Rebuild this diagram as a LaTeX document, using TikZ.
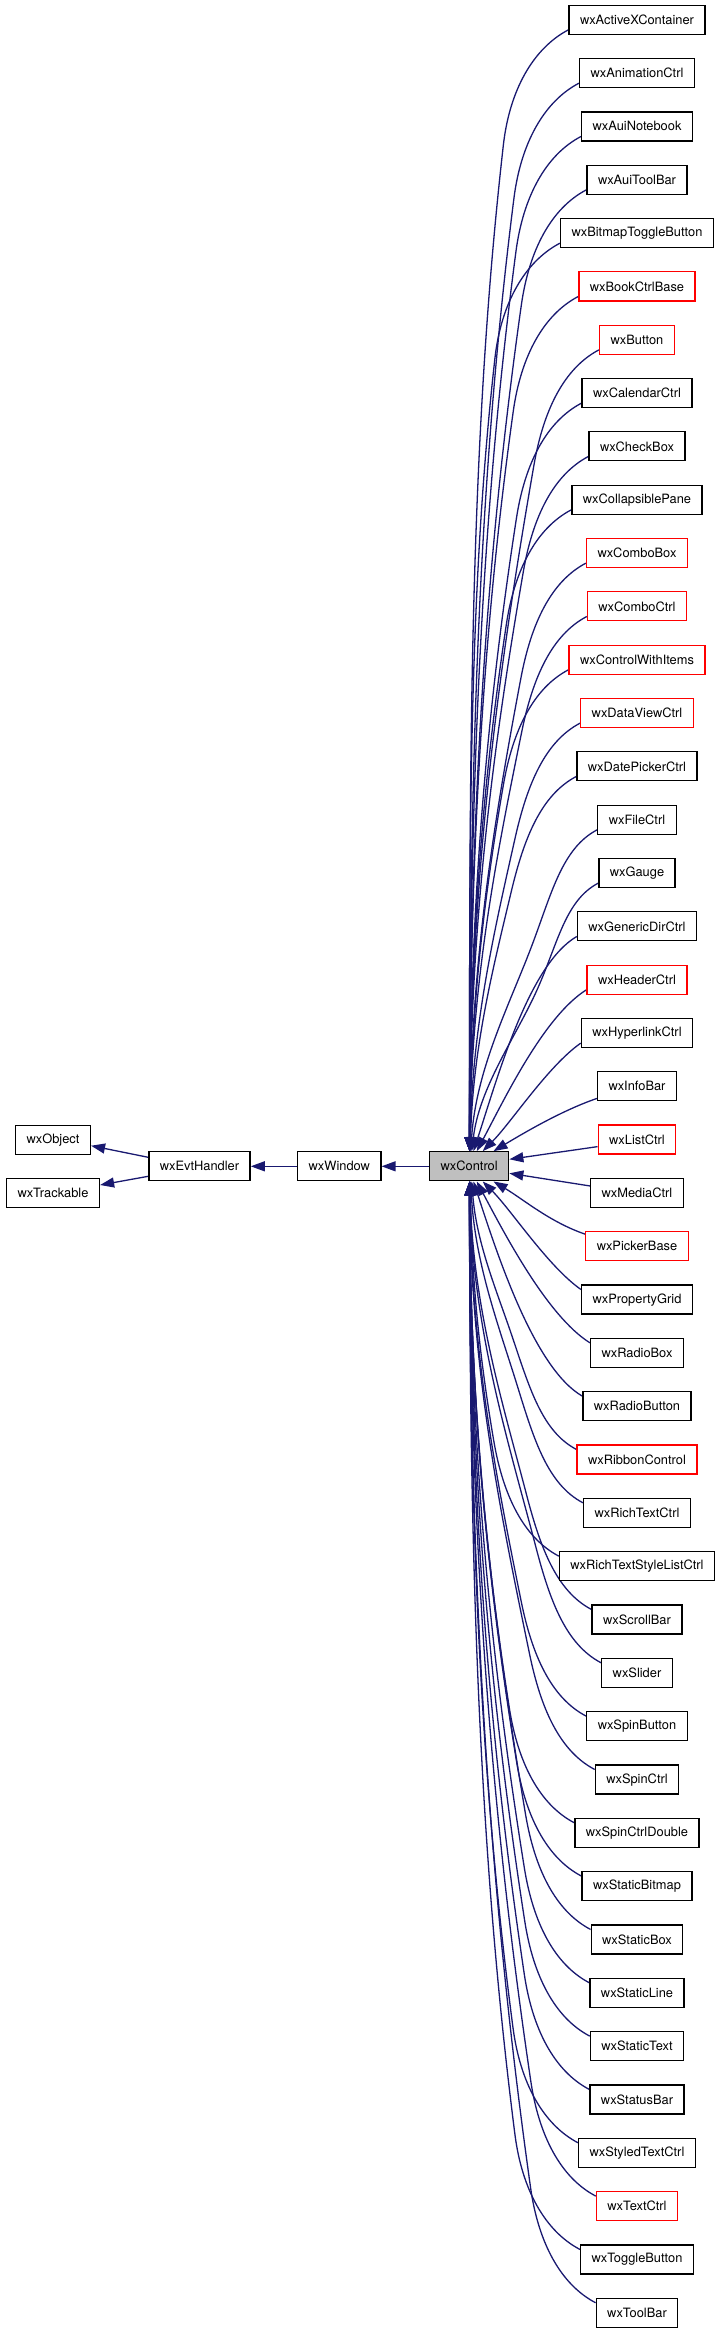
\documentclass[tikz,border=0pt]{standalone}
\usepackage{fontspec}
\setmainfont{TeX Gyre Heros}
\usetikzlibrary{arrows.meta}
\pgfdeclarelayer{bg}
\pgfsetlayers{bg,main}
\definecolor{edgeblue}{HTML}{191970}
\definecolor{ctrlgray}{HTML}{BFBFBF}
\tikzset{
  cls/.style={draw=black, line width=1.3pt, fill=white, inner xsep=11pt, inner ysep=0pt,
    minimum height=29pt, font=\fontsize{12.85pt}{15pt}\selectfont, text=black},
  edge/.style={draw=edgeblue, line width=1.3pt, -{Triangle[length=14pt,width=10pt]}}
}
\begin{document}
\begin{tikzpicture}[x=1pt,y=-1pt]
\useasboundingbox (0,0) rectangle (723,2333);
% left chain
\node[cls] (obj) at (53,1139.7) {wxObject};
\node[cls] (trk) at (53,1193) {wxTrackable};
\node[cls] (evt) at (199.5,1166.3) {wxEvtHandler};
\node[cls] (win) at (339.3,1166.3) {wxWindow};
\node[cls, fill=ctrlgray] (ctrl) at (469.2,1166.3) {wxControl};
% children
\foreach \nm/\col [count=\i from 0] in {
  wxActiveXContainer/black, wxAnimationCtrl/black, wxAuiNotebook/black, wxAuiToolBar/black,
  wxBitmapToggleButton/black, wxBookCtrlBase/red, wxButton/red, wxCalendarCtrl/black,
  wxCheckBox/black, wxCollapsiblePane/black, wxComboBox/red, wxComboCtrl/red,
  wxControlWithItems/red, wxDataViewCtrl/red, wxDatePickerCtrl/black, wxFileCtrl/black,
  wxGauge/black, wxGenericDirCtrl/black, wxHeaderCtrl/red, wxHyperlinkCtrl/black,
  wxInfoBar/black, wxListCtrl/red, wxMediaCtrl/black, wxPickerBase/red,
  wxPropertyGrid/black, wxRadioBox/black, wxRadioButton/black, wxRibbonControl/red,
  wxRichTextCtrl/black, wxRichTextStyleListCtrl/black, wxScrollBar/black, wxSlider/black,
  wxSpinButton/black, wxSpinCtrl/black, wxSpinCtrlDouble/black, wxStaticBitmap/black,
  wxStaticBox/black, wxStaticLine/black, wxStaticText/black, wxStatusBar/black,
  wxStyledTextCtrl/black, wxTextCtrl/red, wxToggleButton/black, wxToolBar/black}
{
  \node[cls, draw=\col] (c\i) at (637,{19.7+53.33*\i}) {\nm};
}
\path (ctrl.north west); \pgfgetlastxy{\nwx}{\nwy}
\path (ctrl.south west); \pgfgetlastxy{\swx}{\swy}
\begin{pgfonlayer}{bg}
% edges from children above
\foreach \i in {0,...,19} {
  \pgfmathtruncatemacro\nn{20-\i}
  \pgfmathsetmacro\off{40.5+24*exp(-0.6*\nn)}
  \ifnum\nn<4
    \pgfmathsetmacro\ths{{0,35,32,30}[\nn]}
    \pgfmathsetmacro\kas{{0,40,50,55}[\nn]}
    \pgfmathsetmacro\tht{{0,45,62,72}[\nn]}
    \pgfmathsetmacro\kat{{0,40,60,80}[\nn]}
    \draw[edge] ([yshift=5pt]c\i.south west)
      .. controls +({-\kas*cos(\ths)},{\kas*sin(\ths)}) and +({\kat*cos(\tht)},{-\kat*sin(\tht)})
      .. ([xshift=\off pt]ctrl.north west);
  \else
    \path (c\i.south west); \pgfgetlastxy{\sx}{\sy}
    \pgfmathsetmacro\dyo{-\nwy-(-\sy-5)}
    \pgfmathsetmacro\bb{min(115,0.45*\dyo)}
    \pgfmathsetmacro\aa{max(40,65*\bb/115)}
    \pgfmathsetmacro\dxw{\sx-\aa-(\nwx+\off)}
    \pgfmathsetmacro\dyw{\dyo-\bb}
    \pgfmathsetmacro\tx{-(\dxw/\dyw)-0.08}
    \pgfmathsetmacro\tn{sqrt(\tx*\tx+1)}
    \pgfmathsetmacro\ux{\tx/\tn}
    \pgfmathsetmacro\uy{1/\tn}
    \pgfmathsetmacro\lenw{100*sqrt((\dxw/100)^2+(\dyw/100)^2)}
    \pgfmathsetmacro\ee{0.4*exp(-0.3*\nn)}
    \coordinate (w\i) at ([xshift=-\aa pt,yshift={5pt-\bb pt}]c\i.south west);
    \draw[edge] ([yshift=5pt]c\i.south west)
      .. controls +({-0.54*\aa},{0.16*\bb}) and +({-0.48*\bb*\ux},{-0.48*\bb*\uy}) .. (w\i)
      .. controls +({0.3*\lenw*\ux},{0.3*\lenw*\uy}) and +({\ee*\dxw},{-0.4*\dyw}) .. ([xshift=\off pt]ctrl.north west);
  \fi
}
% edges from children below
\foreach \i in {24,...,43} {
  \pgfmathtruncatemacro\nn{\i-23}
  \pgfmathsetmacro\off{40.5+24*exp(-0.6*\nn)}
  \ifnum\nn<4
    \pgfmathsetmacro\ths{{0,35,32,30}[\nn]}
    \pgfmathsetmacro\kas{{0,40,50,55}[\nn]}
    \pgfmathsetmacro\tht{{0,45,62,72}[\nn]}
    \pgfmathsetmacro\kat{{0,40,60,80}[\nn]}
    \draw[edge] ([yshift=-5pt]c\i.north west)
      .. controls +({-\kas*cos(\ths)},{-\kas*sin(\ths)}) and +({\kat*cos(\tht)},{\kat*sin(\tht)})
      .. ([xshift=\off pt]ctrl.south west);
  \else
    \path (c\i.north west); \pgfgetlastxy{\sx}{\sy}
    \pgfmathsetmacro\dyo{(-\sy+5)-(-\swy)}
    \pgfmathsetmacro\bb{min(115,0.45*\dyo)}
    \pgfmathsetmacro\aa{max(40,65*\bb/115)}
    \pgfmathsetmacro\dxw{\sx-\aa-(\swx+\off)}
    \pgfmathsetmacro\dyw{\dyo-\bb}
    \pgfmathsetmacro\tx{-(\dxw/\dyw)-0.08}
    \pgfmathsetmacro\tn{sqrt(\tx*\tx+1)}
    \pgfmathsetmacro\ux{\tx/\tn}
    \pgfmathsetmacro\uy{-1/\tn}
    \pgfmathsetmacro\lenw{100*sqrt((\dxw/100)^2+(\dyw/100)^2)}
    \pgfmathsetmacro\ee{0.4*exp(-0.3*\nn)}
    \coordinate (w\i) at ([xshift=-\aa pt,yshift={\bb pt-5pt}]c\i.north west);
    \draw[edge] ([yshift=-5pt]c\i.north west)
      .. controls +({-0.54*\aa},{-0.16*\bb}) and +({-0.48*\bb*\ux},{-0.48*\bb*\uy}) .. (w\i)
      .. controls +({0.3*\lenw*\ux},{0.3*\lenw*\uy}) and +({\ee*\dxw},{0.4*\dyw}) .. ([xshift=\off pt]ctrl.south west);
  \fi
}
% nearest children
\draw[edge] ([yshift=3pt]c20.south west) .. controls +(-35,12) and +(30,-18) .. ([xshift=64.5pt]ctrl.north west);
\draw[edge] ([yshift=-3pt]c23.north west) .. controls +(-35,-12) and +(30,18) .. ([xshift=64.5pt]ctrl.south west);
\draw[edge] ([yshift=-7pt]c21.west) -- ([yshift=7pt]ctrl.east);
\draw[edge] ([yshift=7pt]c22.west) -- ([yshift=-7pt]ctrl.east);
% inheritance chain
\draw[edge] (ctrl.west) -- (win.east);
\draw[edge] (win.west) -- (evt.east);
\draw[edge] ([yshift=9pt]evt.west) -- ([yshift=-6pt]obj.east);
\draw[edge] ([yshift=-10pt]evt.west) -- ([yshift=8pt]trk.east);
\end{pgfonlayer}
\end{tikzpicture}
\end{document}
